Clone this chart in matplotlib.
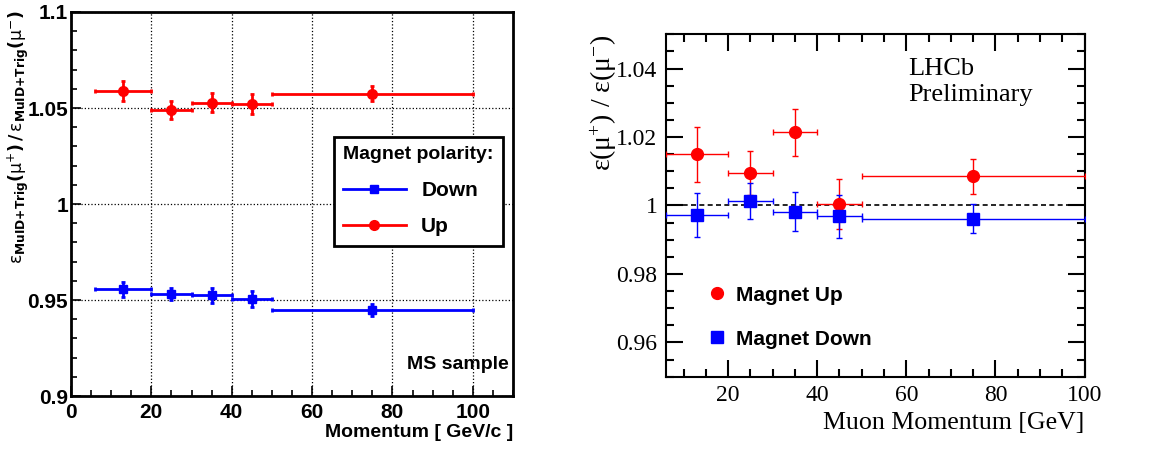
import matplotlib
matplotlib.use("Agg")
import matplotlib.pyplot as plt
from matplotlib.ticker import MultipleLocator, FuncFormatter
from matplotlib.lines import Line2D
import numpy as np

# momentum bins [GeV]
bin_lo = np.array([6, 20, 30, 40, 50])
bin_hi = np.array([20, 30, 40, 50, 100])
p_centre = np.array([13, 25, 35, 45, 75])

# MuID+Trig ratio, MS sample
ms_up = np.array([1.0589, 1.0490, 1.0527, 1.0520, 1.0574])
ms_up_err = np.array([0.0050, 0.0047, 0.0050, 0.0052, 0.0040])
ms_down = np.array([0.9555, 0.9532, 0.9524, 0.9506, 0.9447])
ms_down_err = np.array([0.0040, 0.0032, 0.0040, 0.0040, 0.0030])

# efficiency ratio, LHCb preliminary
eff_up = np.array([1.0150, 1.0094, 1.0214, 1.0004, 1.0085])
eff_up_err = np.array([0.0080, 0.0064, 0.0068, 0.0074, 0.0052])
eff_down = np.array([0.9973, 1.0013, 0.9982, 0.9968, 0.9962])
eff_down_err = np.array([0.0064, 0.0053, 0.0056, 0.0063, 0.0043])

xerr = [p_centre - bin_lo, bin_hi - p_centre]
fmt_g = FuncFormatter(lambda v, pos: f"{v:g}")

# upright serif maths for the right-hand axis title
plt.rcParams["mathtext.rm"] = "Liberation Serif"
plt.rcParams["mathtext.it"] = "Liberation Serif"

fig = plt.figure(figsize=(11.73, 4.49), dpi=100)

# ---------- left panel ----------
sans = "Liberation Sans"
ax1 = fig.add_axes([71 / 1173, 1 - 396 / 449, 442 / 1173, 384 / 449])
ax1.set_xlim(0, 110)
ax1.set_ylim(0.9, 1.1)
ax1.errorbar(p_centre, ms_down, yerr=ms_down_err, xerr=xerr, fmt="s", color="#0000ff",
             ms=6, lw=2, capsize=1.5, capthick=2, zorder=3)
ax1.errorbar(p_centre, ms_up, yerr=ms_up_err, xerr=xerr, fmt="o", color="#ff0000",
             ms=7, lw=2, capsize=1.5, capthick=2, zorder=3)
ax1.xaxis.set_major_locator(MultipleLocator(20))
ax1.xaxis.set_minor_locator(MultipleLocator(5))
ax1.yaxis.set_major_locator(MultipleLocator(0.05))
ax1.yaxis.set_minor_locator(MultipleLocator(0.01))
ax1.yaxis.set_major_formatter(fmt_g)
ax1.grid(True, which="major", ls=":", lw=0.9, color="black")
ax1.tick_params(which="both", direction="in", top=False, right=False, width=1.2)
ax1.tick_params(which="major", length=7, labelsize=15)
ax1.tick_params(axis="y", which="major", pad=2)
ax1.tick_params(axis="x", which="major", pad=5)
ax1.tick_params(which="minor", length=4)
for lab in ax1.get_xticklabels() + ax1.get_yticklabels():
    lab.set_fontfamily(sans)
    lab.set_fontweight("bold")
for s in ax1.spines.values():
    s.set_linewidth(2)

ax1.text(1.0, -0.094, "Momentum [ GeV/c ]", transform=ax1.transAxes, ha="right", va="center",
         fontsize=14, fontweight="bold", family=sans)
ax1.text(-0.12, 1.005,
         r"$\mathrm{ε}_{\mathbf{MuID{+}Trig}}\mathbf{(}\mathrm{μ}^{+}\mathbf{)\,/\,}"
         r"\mathrm{ε}_{\mathbf{MuID{+}Trig}}\mathbf{(}\mathrm{μ}^{-}\mathbf{)}$",
         transform=ax1.transAxes, rotation=90, ha="center", va="top", fontsize=12.5,
         math_fontfamily="dejavusans")
ax1.text(0.99, 0.083, "MS sample", transform=ax1.transAxes, ha="right", va="center",
         fontsize=14, fontweight="bold", family=sans)

handles = [Line2D([], [], color="#0000ff", marker="s", ms=6, lw=2),
           Line2D([], [], color="#ff0000", marker="o", ms=7, lw=2)]
leg = ax1.legend(handles, ["Down", "Up"], title="Magnet polarity:", loc="upper right",
                 bbox_to_anchor=(0.977, 0.6745), borderaxespad=0, fancybox=False,
                 framealpha=1, edgecolor="black", handlelength=3.0, handletextpad=0.75,
                 labelspacing=0.84, borderpad=0.45, alignment="left",
                 prop={"family": sans, "weight": "bold", "size": 15},
                 title_fontproperties={"family": sans, "weight": "bold", "size": 14})
leg.get_frame().set_linewidth(2)

# ---------- right panel ----------
serif = "Liberation Serif"
ax2 = fig.add_axes([665.7 / 1173, 1 - 376.7 / 449, 418.8 / 1173, 342.4 / 449])
ax2.set_xlim(6, 100)
ax2.set_ylim(0.95, 1.05)
ax2.axhline(1.0, color="black", ls=(0, (3, 2)), lw=1.2, zorder=1)
ax2.errorbar(p_centre, eff_up, yerr=eff_up_err, xerr=xerr, fmt="o", color="#ff0000",
             ms=8.5, lw=1.0, capsize=2, capthick=1.0, zorder=3)
ax2.errorbar(p_centre, eff_down, yerr=eff_down_err, xerr=xerr, fmt="s", color="#0000ff",
             ms=8, lw=1.0, capsize=2, capthick=1.0, zorder=3)
ax2.xaxis.set_major_locator(MultipleLocator(20))
ax2.xaxis.set_minor_locator(MultipleLocator(5))
ax2.yaxis.set_major_locator(MultipleLocator(0.02))
ax2.yaxis.set_minor_locator(MultipleLocator(0.005))
ax2.yaxis.set_major_formatter(fmt_g)
ax2.tick_params(which="both", direction="in", top=True, right=True, width=1.5)
ax2.tick_params(which="major", length=12, labelsize=17, pad=6)
ax2.tick_params(which="minor", length=6)
for lab in ax2.get_xticklabels() + ax2.get_yticklabels():
    lab.set_fontfamily(serif)
for s in ax2.spines.values():
    s.set_linewidth(1.5)

ax2.text(1.0, -0.135, "Muon Momentum [GeV]", transform=ax2.transAxes, ha="right", va="center",
         fontsize=18.6, family=serif)
ax2.text(-0.148, 1.0, r"$\mathrm{ε(μ^{+})\ /\ ε(μ^{-})}$", transform=ax2.transAxes,
         rotation=90, ha="center", va="top", fontsize=20, math_fontfamily="custom")
ax2.text(0.579, 0.93, "LHCb\nPreliminary", transform=ax2.transAxes, ha="left", va="top",
         fontsize=19, family=serif, linespacing=1.2)

handles2 = [Line2D([], [], color="#ff0000", marker="o", ms=8.5, ls="none"),
            Line2D([], [], color="#0000ff", marker="s", ms=8, ls="none")]
ax2.legend(handles2, ["Magnet Up", "Magnet Down"], loc="upper left",
           bbox_to_anchor=(0.082, 0.29), frameon=False, borderaxespad=0,
           handlelength=0.8, handletextpad=0.55, labelspacing=1.2,
           prop={"family": sans, "weight": "bold", "size": 15})

fig.savefig("out.png", dpi=100)
